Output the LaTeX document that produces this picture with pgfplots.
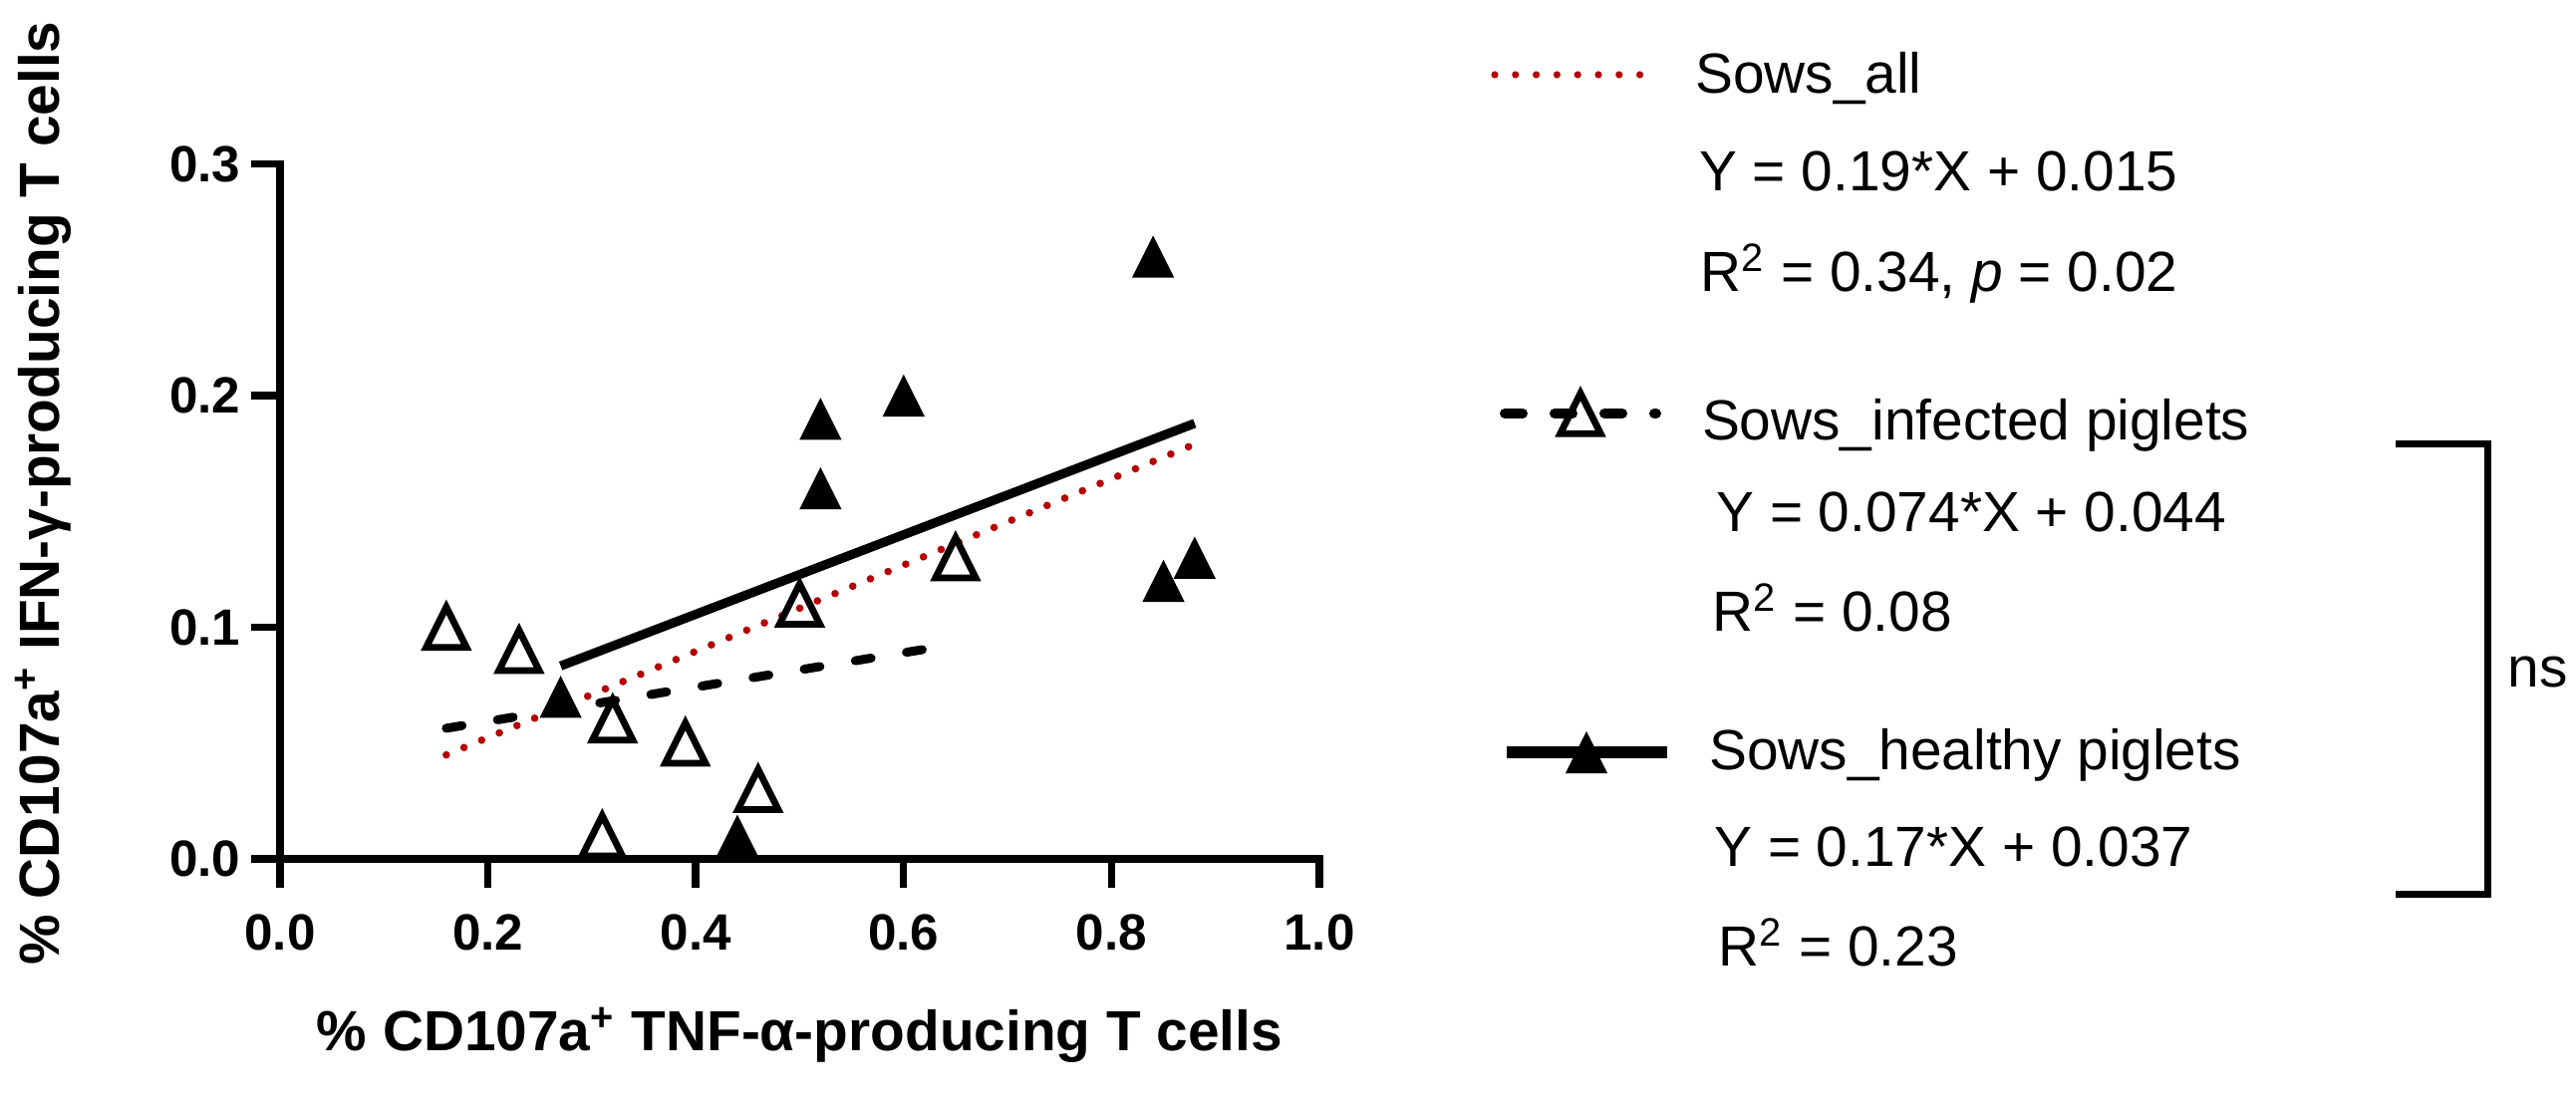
\documentclass[border=0pt]{standalone}
\usepackage{fontspec}
\setmainfont{Liberation Sans}
\usepackage{pgfplots}
\pgfplotsset{compat=1.18}
\definecolor{dred}{RGB}{180,0,0}
\pgfdeclareplotmark{otri}{%
  \pgfpathmoveto{\pgfqpoint{0pt}{\pgfplotmarksize}}%
  \pgfpathlineto{\pgfqpoint{-\pgfplotmarksize}{-\pgfplotmarksize}}%
  \pgfpathlineto{\pgfqpoint{\pgfplotmarksize}{-\pgfplotmarksize}}%
  \pgfpathclose\pgfusepathqstroke}
\pgfdeclareplotmark{ftri}{%
  \pgfpathmoveto{\pgfqpoint{0pt}{\pgfplotmarksize}}%
  \pgfpathlineto{\pgfqpoint{-\pgfplotmarksize}{-\pgfplotmarksize}}%
  \pgfpathlineto{\pgfqpoint{\pgfplotmarksize}{-\pgfplotmarksize}}%
  \pgfpathclose\pgfusepathqfill}
\pgfplotstableread{
x y
0.16 0.10
0.23 0.09
0.31 0.01
0.32 0.06
0.39 0.05
0.46 0.03
0.50 0.11
0.65 0.13
}\infected
\pgfplotstableread{
x y
0.27 0.07
0.44 0.01
0.52 0.19
0.52 0.16
0.60 0.20
0.84 0.26
0.85 0.12
0.88 0.13
}\healthy
\newcommand{\lfont}{\fontsize{14.2}{17}\selectfont}
\begin{document}
\begin{tikzpicture}
\path[use as bounding box] (0,0) rectangle (646.25pt,278.75pt);
\begin{axis}[
  at={(70.25pt,63.25pt)}, anchor=south west,
  scale only axis, width=260.75pt, height=174.375pt,
  xmin=0, xmax=1, ymin=0, ymax=0.3,
  axis x line=bottom, axis y line=left,
  axis line style={line width=1.85pt, -, line cap=rect, black},
  tick style={line width=1.85pt, black},
  tick align=outside, major tick length=7.25pt,
  xtick={0,0.2,0.4,0.6,0.8,1}, xticklabels={0.0,0.2,0.4,0.6,0.8,1.0},
  ytick={0,0.1,0.2,0.3}, yticklabels={0.0,0.1,0.2,0.3},
  ticklabel style={font=\bfseries\fontsize{12.8}{14}\selectfont, inner sep=0pt},
  xticklabel style={anchor=base, yshift=-15.5pt},
  yticklabel style={anchor=east, xshift=-2.5pt},
  clip=false,
  xlabel={\% CD107a\textsuperscript{+} TNF-α-producing T cells},
  ylabel={\% CD107a\textsuperscript{+} IFN-γ-producing T cells},
  every axis x label/.style={at={(axis description cs:0.5,-0.2767)}, anchor=base, font=\bfseries\lfont, inner sep=0pt},
  every axis y label/.style={at={(axis description cs:-0.2128,0.5262)}, rotate=90, anchor=base, font=\bfseries\lfont, inner sep=0pt},
  legend style={draw=none, fill=none, inner sep=0pt, outer sep=0pt,
    row sep=0pt, column sep=0pt, nodes={inner sep=0pt, outer sep=0pt},
    at={(axis description cs:1.1653,0.6409)}, anchor=west},
]
\addlegendimage{legend image code/.code={\path[draw=none, fill=none] (0pt,-42.5pt) rectangle (0pt,42.5pt);
  \draw[dred, line width=1.8pt, dash pattern=on 0pt off 5.2pt, line cap=round] (0pt,0pt) -- (37.5pt,0pt);}}
\addlegendentry{}
\addlegendimage{legend image code/.code={\path[draw=none, fill=none] (0pt,-42.5pt) rectangle (0pt,42.5pt);
  \draw[black, line width=2.5pt, dash pattern=on 4.5pt off 8pt, line cap=round] (2.5pt,0pt) -- (40.5pt,0pt);
  \draw[black, line width=1.7pt] plot[mark=otri, mark size=5.05pt] coordinates {(21.5pt,0pt)};}}
\addlegendentry{}
\addlegendimage{legend image code/.code={\path[draw=none, fill=none] (0pt,-42.5pt) rectangle (0pt,42.5pt);
  \draw[black, line width=2.9pt] (3pt,0pt) -- (43.25pt,0pt);
  \draw[black, fill=black] plot[mark=ftri, mark size=5.3pt] coordinates {(23pt,0pt)};}}
\addlegendentry{}
% data points
\addplot[only marks, mark=otri, mark size=5.05pt, mark options={draw=black, line width=1.7pt, solid}, forget plot] table[x=x, y=y] {\infected};
\addplot[only marks, mark=ftri, mark size=5.3pt, mark options={fill=black, draw=none}, forget plot] table[x=x, y=y] {\healthy};
% regression lines
\addplot[black, line width=2.25pt, dash pattern=on 4pt off 9pt, line cap=round, forget plot] coordinates {(0.16,0.0564) (0.65,0.0927)};
\addplot[black, line width=2.3pt, forget plot] coordinates {(0.27,0.0833) (0.88,0.1880)};
\addplot[dred, line width=1.9pt, dash pattern=on 0pt off 4.8pt, line cap=round, forget plot] coordinates {(0.16,0.0449) (0.88,0.1790)};
\end{axis}
% legend texts
\begin{scope}[every node/.style={anchor=base west, inner sep=0pt, font=\lfont}]
\node at (425.1pt,255.25pt) {Sows\_all};
\node at (426.1pt,230.75pt) {Y = 0.19*X + 0.015};
\node at (426.4pt,205.5pt) {R\textsuperscript{2} = 0.34, \textit{p} = 0.02};
\node at (426.8pt,168.25pt) {Sows\_infected piglets};
\node at (430.4pt,145.25pt) {Y = 0.074*X + 0.044};
\node at (429.4pt,120.25pt) {R\textsuperscript{2} = 0.08};
\node at (428.6pt,85.5pt) {Sows\_healthy piglets};
\node at (429.9pt,61.25pt) {Y = 0.17*X + 0.037};
\node at (430.9pt,36.25pt) {R\textsuperscript{2} = 0.23};
\node at (629pt,106.25pt) {ns};
\end{scope}
\draw[line width=1.75pt] (601pt,167.3pt) -- (624pt,167.3pt) -- (624pt,54.25pt) -- (601pt,54.25pt);
\end{tikzpicture}
\end{document}
